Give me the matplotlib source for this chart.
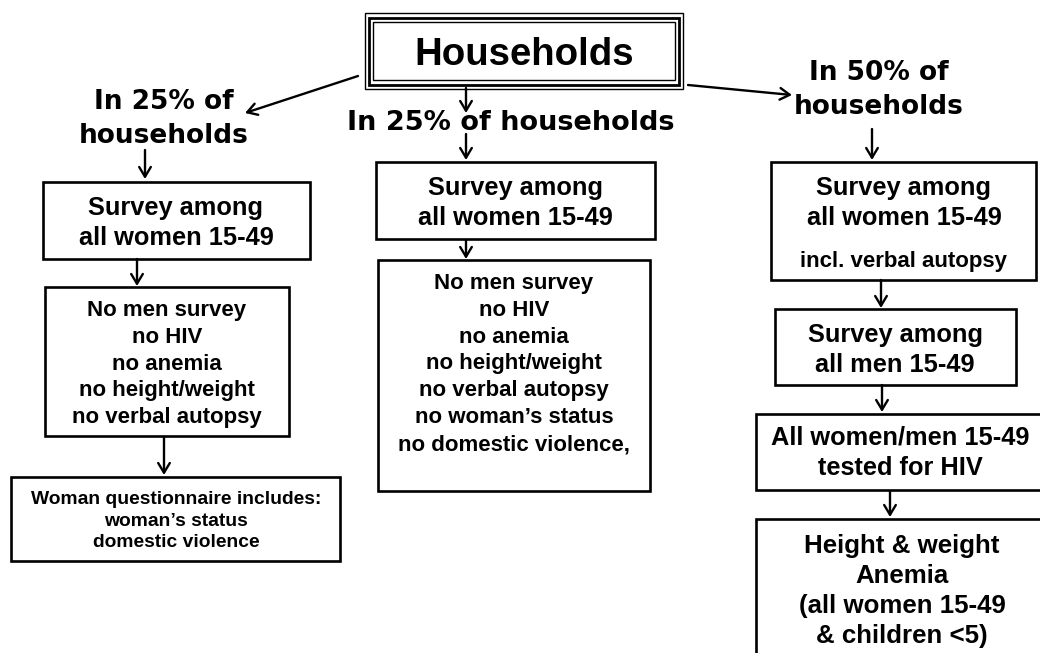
import matplotlib
matplotlib.use("Agg")
import matplotlib.pyplot as plt
from matplotlib.patches import Rectangle

# ---- content ----
title_text = "Households"
branch_labels = ["In 25% of\nhouseholds", "In 25% of households", "In 50% of\nhouseholds"]
left_texts = [
    "Survey among\nall women 15-49",
    "No men survey\nno HIV\nno anemia\nno height/weight\nno verbal autopsy",
    "Woman questionnaire includes:\nwoman\u2019s status\ndomestic violence",
]
mid_texts = [
    "Survey among\nall women 15-49",
    "No men survey\nno HIV\nno anemia\nno height/weight\nno verbal autopsy\nno woman\u2019s status\nno domestic violence,",
]
right_texts = [
    "Survey among\nall women 15-49",
    "Survey among\nall men 15-49",
    "All women/men 15-49\ntested for HIV",
    "Height & weight\nAnemia\n(all women 15-49\n& children <5)",
]
right_note = "incl. verbal autopsy"

# ---- layout (pixel coordinates, y downward) ----
W, H = 1040, 653
fig = plt.figure(figsize=(W / 100, H / 100), dpi=100)
ax = fig.add_axes([0, 0, 1, 1])
ax.set_xlim(0, W)
ax.set_ylim(H, 0)
ax.axis("off")

BODY = "Liberation Sans"
LABEL = "DejaVu Sans"
LW = 1.9


def box(x0, y0, x1, y1, lw=LW):
    ax.add_patch(Rectangle((x0, y0), x1 - x0, y1 - y0, fill=True,
                           facecolor="white", edgecolor="black", lw=lw, zorder=2))


def txt(x, y, s, size, family=BODY, ls=1.3):
    ax.text(x, y, s, ha="center", va="center", fontsize=size, fontweight="bold",
            family=family, linespacing=ls, zorder=4)


def arrow(x0, y0, x1, y1):
    ax.annotate("", xy=(x1, y1), xytext=(x0, y0),
                arrowprops=dict(arrowstyle="->,head_length=0.5,head_width=0.3",
                                lw=1.7, color="black", mutation_scale=14,
                                shrinkA=0, shrinkB=0), zorder=3)


# Households box (triple border)
ax.add_patch(Rectangle((365, 13), 318, 76, fill=False, edgecolor="black", lw=1.0, zorder=2))
ax.add_patch(Rectangle((369, 17.5), 309.5, 67, fill=False, edgecolor="black", lw=2.0, zorder=2))
ax.add_patch(Rectangle((373, 22), 302, 58, fill=False, edgecolor="black", lw=1.0, zorder=2))
txt(524, 55, title_text, 27.6)

# arrows from households
arrow(358, 76, 245, 113)
arrow(466, 88, 466, 113)
arrow(688, 85, 792, 95)

# branch labels
txt(164, 119, branch_labels[0], 19, family=LABEL, ls=1.44)
txt(511, 123, branch_labels[1], 19.5, family=LABEL)
txt(879, 90, branch_labels[2], 19, family=LABEL, ls=1.44)

# ---- left column ----
arrow(145, 150, 145, 179)
box(43, 182, 310, 259)
txt(176, 223, left_texts[0], 18.3, ls=1.3)
arrow(137, 259, 137, 286)
box(45, 287, 289, 436)
txt(167, 364, left_texts[1], 16, ls=1.37)
arrow(164, 437, 164, 475)
box(11, 477, 340, 561)
txt(176, 521, left_texts[2], 13.9, ls=1.34)

# ---- middle column ----
arrow(466, 134, 466, 160)
box(376, 162, 655, 239)
txt(515, 203, mid_texts[0], 18.3, ls=1.3)
arrow(466, 240, 466, 259)
box(378, 260, 650, 491)
txt(514, 364, mid_texts[1], 16, ls=1.37)

# ---- right column ----
arrow(872, 129, 872, 160)
box(771, 162, 1036, 280)
txt(904, 203, right_texts[0], 18.3, ls=1.3)
txt(904, 261, right_note, 16)
arrow(881, 280, 881, 308)
box(775, 309, 1016, 385)
txt(895, 350, right_texts[1], 18.3, ls=1.3)
arrow(882, 385, 882, 412)
box(756, 414, 1045, 490)
txt(900, 453, right_texts[2], 18.3, ls=1.33)
arrow(890, 491, 890, 517)
box(756, 519, 1045, 670)
txt(902, 591, right_texts[3], 18.6, ls=1.31)

fig.savefig("out.png", dpi=100, facecolor="white")
